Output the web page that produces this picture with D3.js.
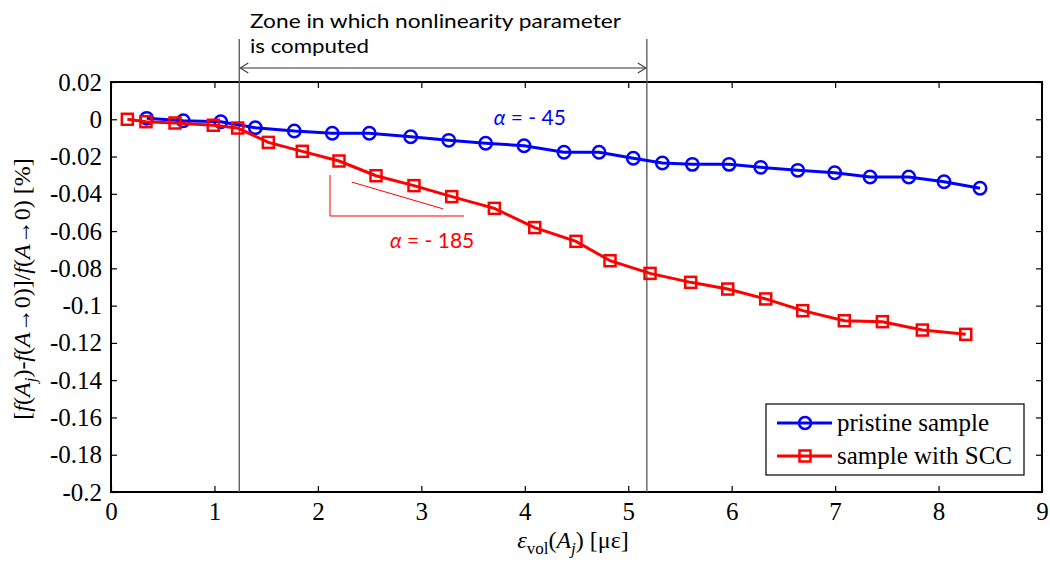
<!DOCTYPE html>
<html><head><meta charset="utf-8">
<script src="https://cdn.jsdelivr.net/npm/d3@7"></script>
<style>body{margin:0;background:#fff}svg{display:block}
.serif{font-family:"Liberation Serif","Times New Roman",Times,"DejaVu Serif","Noto Serif",serif;}
</style>
</head><body>
<svg id="chart" width="1050" height="564"></svg>
<script>
const xTicks = [0,1,2,3,4,5,6,7,8,9];
const yTicks = [0.02,0,-0.02,-0.04,-0.06,-0.08,-0.1,-0.12,-0.14,-0.16,-0.18,-0.2];
const pristineX = [0.345,0.699,1.061,1.395,1.772,2.139,2.497,2.897,3.265,3.622,3.993,4.379,4.718,5.049,5.330,5.620,5.975,6.281,6.639,6.996,7.338,7.712,8.053,8.401];
const pristineY = [0.0005,-0.0008,-0.0013,-0.0045,-0.0063,-0.0075,-0.0075,-0.0094,-0.0113,-0.0129,-0.0142,-0.0177,-0.0177,-0.0209,-0.0235,-0.0242,-0.0242,-0.0258,-0.0274,-0.0287,-0.0310,-0.0310,-0.0335,-0.0370];
const sccX = [0.158,0.338,0.619,0.989,1.225,1.521,1.849,2.204,2.562,2.929,3.294,3.706,4.096,4.495,4.824,5.211,5.604,5.962,6.329,6.687,7.089,7.457,7.843,8.263];
const sccY = [0.0000,-0.0013,-0.0020,-0.0032,-0.0047,-0.0124,-0.0172,-0.0224,-0.0303,-0.0356,-0.0415,-0.0478,-0.0581,-0.0655,-0.0759,-0.0827,-0.0875,-0.0911,-0.0964,-0.1027,-0.1081,-0.1086,-0.1131,-0.1154];
const seriesNames = ["pristine sample","sample with SCC"];
const zoneBounds = [1.24, 5.18];
const zoneText = ["Zone in which nonlinearity parameter","is computed"];

const svg = d3.select("#chart");
const L=111, T=82, R=1042, B=492;
const x = d3.scaleLinear().domain([0,9]).range([L,R]);
const y = d3.scaleLinear().domain([-0.2,0.02]).range([B,T]);
const sans = "Lato,'Open Sans',sans-serif";
const fmt = d => d===0 ? "0" : String(+d.toFixed(2));

// axes (boxed, inward ticks)
const g = svg.append("g");
const axB = d3.axisBottom(x).tickValues(xTicks).tickSize(-6).tickPadding(10).tickFormat(d=>d);
const axT = d3.axisTop(x).tickValues(xTicks).tickSize(-6).tickFormat("");
const axL = d3.axisLeft(y).tickValues(yTicks).tickSize(-6).tickPadding(9).tickFormat(fmt);
const axR = d3.axisRight(y).tickValues(yTicks).tickSize(-6).tickFormat("");
[[axB,`translate(0,${B})`],[axT,`translate(0,${T})`],[axL,`translate(${L},0)`],[axR,`translate(${R},0)`]].forEach(([a,t])=>{
  const s = g.append("g").attr("transform",t).call(a).attr("font-family",null);
  s.select(".domain").remove();
  s.selectAll(".tick line").attr("stroke","#000").attr("stroke-width",1.2);
  s.selectAll(".tick text").attr("class","serif").attr("font-size",25).attr("fill","#000");
});
g.append("rect").attr("x",L).attr("y",T).attr("width",R-L).attr("height",B-T)
  .attr("fill","none").attr("stroke","#000").attr("stroke-width",2);

// zone lines and arrow
zoneBounds.forEach(v=>{
  svg.append("line").attr("x1",x(v)).attr("x2",x(v)).attr("y1",39).attr("y2",B)
    .attr("stroke","#555").attr("stroke-width",1.3);
});
const ay = 68;
svg.append("line").attr("x1",x(zoneBounds[0])+1).attr("x2",x(zoneBounds[1])-1).attr("y1",ay).attr("y2",ay)
  .attr("stroke","#777").attr("stroke-width",1.5);
svg.append("path").attr("d",`M${x(zoneBounds[0])+9},${ay-5}L${x(zoneBounds[0])+1},${ay}L${x(zoneBounds[0])+9},${ay+5}`)
  .attr("fill","none").attr("stroke","#444").attr("stroke-width",1.2);
svg.append("path").attr("d",`M${x(zoneBounds[1])-9},${ay-5}L${x(zoneBounds[1])-1},${ay}L${x(zoneBounds[1])-9},${ay+5}`)
  .attr("fill","none").attr("stroke","#444").attr("stroke-width",1.2);
svg.append("text").attr("x",250).attr("y",28).attr("font-family",sans).attr("font-size",19)
  .attr("textLength",371).attr("lengthAdjust","spacingAndGlyphs").text(zoneText[0]);
svg.append("text").attr("x",250).attr("y",53).attr("font-family",sans).attr("font-size",19)
  .attr("textLength",119).attr("lengthAdjust","spacingAndGlyphs").text(zoneText[1]);

// slope triangle
const tri = {vx:2.117, yTop:-0.0299, yBot:-0.0519, hx:3.413, s:[2.327,-0.0337,3.212,-0.0481]};
svg.append("path").attr("d",`M${x(tri.vx)},${y(tri.yTop)}L${x(tri.vx)},${y(tri.yBot)}L${x(tri.hx)},${y(tri.yBot)}`)
  .attr("fill","none").attr("stroke","#ff0000").attr("stroke-width",1);
svg.append("line").attr("x1",x(tri.s[0])).attr("y1",y(tri.s[1])).attr("x2",x(tri.s[2])).attr("y2",y(tri.s[3]))
  .attr("stroke","#ff0000").attr("stroke-width",1);

// series
const blue="#0000ff", red="#ff0000";
const pData = pristineX.map((v,i)=>[v,pristineY[i]]);
const sData = sccX.map((v,i)=>[v,sccY[i]]);
const line = d3.line().x(d=>x(d[0])).y(d=>y(d[1]));
svg.append("path").datum(pData).attr("d",line).attr("fill","none").attr("stroke",blue).attr("stroke-width",3);
svg.append("g").selectAll("circle").data(pData).join("circle")
  .attr("cx",d=>x(d[0])).attr("cy",d=>y(d[1])).attr("r",6.2)
  .attr("fill","none").attr("stroke",blue).attr("stroke-width",2.5);
svg.append("path").datum(sData).attr("d",line).attr("fill","none").attr("stroke",red).attr("stroke-width",3);
svg.append("g").selectAll("rect").data(sData).join("rect")
  .attr("x",d=>x(d[0])-5.5).attr("y",d=>y(d[1])-5.5).attr("width",11).attr("height",11)
  .attr("fill","none").attr("stroke",red).attr("stroke-width",2.5);

// alpha labels
function alpha(xv,yv,val,col){
  const t = svg.append("text").attr("x",x(xv)).attr("y",y(yv)).attr("font-family",sans).attr("font-size",21).attr("fill",col);
  t.append("tspan").attr("font-style","italic").text("α");
  t.append("tspan").text(" = - "+val);
}
alpha(3.70,-0.0031,"45",blue);
alpha(2.697,-0.0691,"185",red);

// legend
const lg = svg.append("g");
lg.append("rect").attr("x",766).attr("y",404).attr("width",258).attr("height",71).attr("fill","#fff").attr("stroke","#000").attr("stroke-width",1.2);
[[blue,"c"],[red,"s"]].forEach(([c,m],i)=>{
  const yy = 423 + i*33;
  lg.append("line").attr("x1",777).attr("x2",832).attr("y1",yy).attr("y2",yy).attr("stroke",c).attr("stroke-width",3);
  if(m==="c") lg.append("circle").attr("cx",805).attr("cy",yy).attr("r",6).attr("fill","none").attr("stroke",c).attr("stroke-width",2.5);
  else lg.append("rect").attr("x",799.5).attr("y",yy-5.5).attr("width",11).attr("height",11).attr("fill","none").attr("stroke",c).attr("stroke-width",2.5);
  lg.append("text").attr("class","serif").attr("x",837).attr("y",yy+8).attr("font-size",25).text(seriesNames[i]);
});

// x label
const xl = svg.append("text").attr("class","serif").attr("x",573).attr("y",548).attr("text-anchor","middle").attr("font-size",24);
xl.append("tspan").attr("font-style","italic").text("ε");
xl.append("tspan").attr("font-size",17).attr("dy",6).text("vol");
xl.append("tspan").attr("dy",-6).text("(");
xl.append("tspan").attr("font-style","italic").text("A");
xl.append("tspan").attr("font-size",17).attr("font-style","italic").attr("dy",6).text("j");
xl.append("tspan").attr("dy",-6).text(") [με]");

// y label
const yl = svg.append("text").attr("class","serif").attr("transform","translate(30,289) rotate(-90)").attr("text-anchor","middle").attr("font-size",24);
const parts = [["[",0],["f",1],["(",0],["A",1],["j",2],[")-",3],["f",1],["(",0],["A",1],["→0)]/",0],["f",1],["(",0],["A",1],["→0) [%]",0]];
parts.forEach(([s,k])=>{
  const t = yl.append("tspan").text(s);
  if(k===1) t.attr("font-style","italic");
  if(k===2) t.attr("font-style","italic").attr("font-size",17).attr("dy",6);
  if(k===3) t.attr("dy",-6);
});
</script>
</body></html>
